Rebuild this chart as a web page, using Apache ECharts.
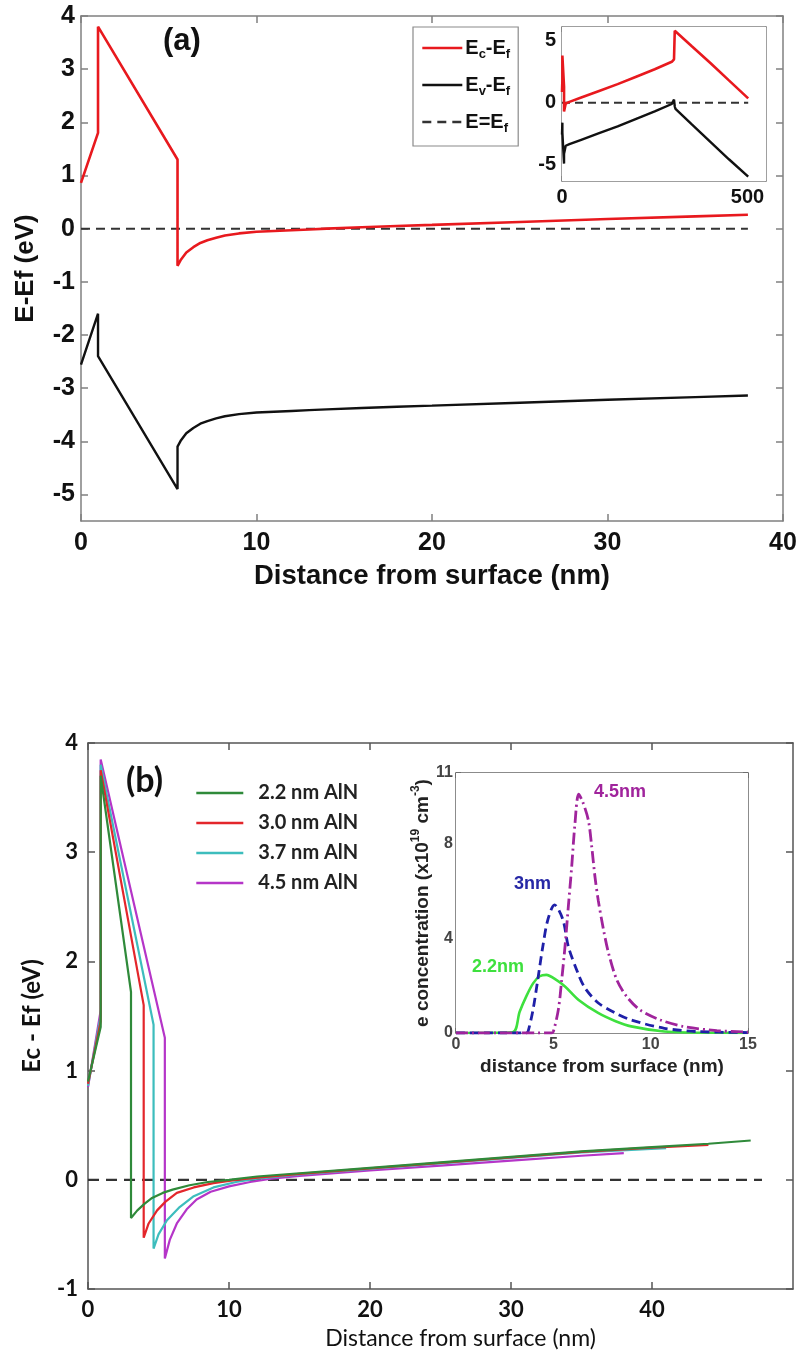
<!DOCTYPE html>
<html>
<head>
<meta charset="utf-8">
<script src="https://cdn.jsdelivr.net/npm/echarts@6/dist/echarts.min.js"></script>
<style>
html,body{margin:0;padding:0;background:#fff;}
#c{width:803px;height:1358px;}
</style>
</head>
<body>
<div id="c"></div>
<script>
// ---------- Panel (a) main: band edges vs distance (nm) ----------
const A_X  = [0, 0.97, 0.97, 5.5, 5.5, 5.7, 6.0, 6.4, 6.8, 7.2, 7.7, 8.2, 9.0, 10, 11, 12, 13, 14, 16, 18, 20, 25, 30, 35, 38];
const A_EC = [0.86, 1.8, 3.8, 1.3, -0.7, -0.58, -0.45, -0.35, -0.27, -0.22, -0.17, -0.13, -0.09, -0.06, -0.045, -0.03, -0.015, 0.0, 0.025, 0.05, 0.07, 0.125, 0.18, 0.23, 0.26];
const A_EV = [-2.56, -1.6, -2.4, -4.9, -4.1, -3.98, -3.85, -3.75, -3.67, -3.62, -3.57, -3.53, -3.49, -3.46, -3.445, -3.43, -3.415, -3.4, -3.375, -3.35, -3.33, -3.275, -3.22, -3.17, -3.14];
const A_EF_X = [0, 38];
const A_EF   = [0, 0];
const A_XTICKS = [0, 10, 20, 30, 40];
const A_YTICKS = [-5, -4, -3, -2, -1, 0, 1, 2, 3, 4];

// ---------- Panel (a) inset: 0-500 nm ----------
const IA_X_EC = [0, 1, 1, 5.5, 5.5, 10, 20, 50, 100, 150, 200, 250, 296, 302, 304, 350, 400, 450, 502];
const IA_EC   = [0.86, 1.8, 3.8, 1.3, -0.7, -0.06, 0.07, 0.4, 0.95, 1.5, 2.1, 2.7, 3.3, 3.5, 5.8, 4.55, 3.2, 1.8, 0.35];
const IA_X_EV = [0, 1, 1, 5.5, 5.5, 10, 20, 50, 100, 150, 200, 250, 296, 300, 302, 304, 306, 350, 400, 450, 502];
const IA_EV   = [-2.56, -1.6, -2.4, -4.9, -4.1, -3.46, -3.33, -3.0, -2.45, -1.9, -1.3, -0.7, -0.1, 0.05, 0.25, -0.3, -0.5, -1.75, -3.15, -4.55, -5.95];
const IA_EF_X = [0, 502];
const IA_EF   = [0, 0];
const IA_XTICKS = [0, 500];
const IA_YTICKS = [-5, 0, 5];

// ---------- Panel (b) main: Ec - Ef for four AlN thicknesses ----------
const B_X_22 = [0, 0.9, 0.9, 3.05, 3.05, 3.5, 4.0, 4.5, 5.3, 6.0, 7.2, 8.5, 10, 12, 15, 20, 25, 30, 35, 40, 44, 47];
const B_22   = [0.9, 1.4, 3.7, 1.72, -0.35, -0.28, -0.22, -0.17, -0.12, -0.09, -0.05, -0.02, 0.0, 0.03, 0.06, 0.11, 0.16, 0.21, 0.26, 0.3, 0.33, 0.36];
const B_X_30 = [0, 0.9, 0.9, 3.95, 3.95, 4.3, 4.9, 5.5, 6.3, 7.5, 8.9, 10.5, 12, 15, 20, 25, 30, 35, 40, 44];
const B_30   = [0.88, 1.45, 3.75, 1.6, -0.53, -0.4, -0.28, -0.2, -0.12, -0.07, -0.03, 0.0, 0.02, 0.055, 0.105, 0.155, 0.205, 0.255, 0.295, 0.32];
const B_X_37 = [0, 0.9, 0.9, 4.65, 4.65, 5.0, 5.6, 6.5, 7.5, 8.9, 10.5, 12, 15, 20, 25, 30, 35, 41];
const B_37   = [0.86, 1.5, 3.8, 1.42, -0.63, -0.5, -0.37, -0.25, -0.15, -0.07, -0.02, 0.01, 0.05, 0.1, 0.15, 0.2, 0.25, 0.29];
const B_X_45 = [0, 0.9, 0.9, 5.45, 5.45, 5.8, 6.3, 7.0, 7.7, 8.7, 10, 11.5, 13, 15, 20, 25, 30, 35, 38];
const B_45   = [0.85, 1.55, 3.85, 1.3, -0.72, -0.55, -0.4, -0.27, -0.18, -0.11, -0.06, -0.02, 0.01, 0.035, 0.085, 0.13, 0.175, 0.22, 0.245];
const B_EF_X = [0, 47.8];
const B_EF   = [0, 0];
const B_NAMES = ['2.2 nm AlN', '3.0 nm AlN', '3.7 nm AlN', '4.5 nm AlN'];
const B_XTICKS = [0, 10, 20, 30, 40];

// ---------- Panel (b) inset: electron concentration (x1e19 cm^-3) ----------
const IB_X_22 = [0, 2.9, 3.27, 3.61, 3.96, 4.3, 4.64, 5.15, 5.6, 6.3, 7.3, 8.2, 9.0, 10.7, 12, 15];
const IB_22   = [0, 0.03, 0.9, 1.55, 2.1, 2.4, 2.46, 2.25, 1.97, 1.4, 0.85, 0.5, 0.28, 0.06, 0.02, 0];
const IB_X_30 = [0, 3.6, 3.7, 3.96, 4.2, 4.46, 4.72, 5.06, 5.49, 5.77, 6.28, 6.63, 7.31, 8.17, 9.0, 10.7, 12.4, 15];
const IB_30   = [0, 0, 0.06, 1.0, 2.25, 3.66, 4.8, 5.42, 4.8, 3.66, 2.5, 1.9, 1.27, 0.85, 0.55, 0.2, 0.06, 0.02];
const IB_X_45 = [0, 4.9, 5.0, 5.26, 5.43, 5.6, 5.77, 5.94, 6.1, 6.3, 6.5, 6.8, 6.97, 7.14, 7.31, 7.57, 7.83, 8.26, 8.77, 9.46, 10.5, 11.7, 13.4, 15];
const IB_45   = [0, 0, 0.06, 1.0, 2.25, 3.66, 5.35, 7.0, 8.75, 10.1, 9.8, 9.0, 7.9, 6.6, 5.6, 4.4, 3.4, 2.25, 1.54, 0.97, 0.55, 0.27, 0.1, 0.04];
const IB_XTICKS = [0, 5, 10, 15];
const IB_YTICKS = [0, 4, 8, 11];

// ---------- helpers ----------
const zip = (xs, ys) => xs.map((x, i) => [x, ys[i]]);
const FA = "'Liberation Sans', Arial, sans-serif";
const FB = "Lato, 'Open Sans', sans-serif";

function line(name, xs, ys, xi, yi, color, width, type, smooth) {
  return {
    name: name, type: 'line', xAxisIndex: xi, yAxisIndex: yi,
    data: zip(xs, ys), symbol: 'none', smooth: smooth || false,
    lineStyle: { color: color, width: width, type: type || 'solid' },
    itemStyle: { color: color },
    animation: false, z: 3
  };
}

function axis(opt) {
  const o = {
    type: 'value', gridIndex: opt.g, position: opt.pos,
    min: opt.min, max: opt.max,
    axisLine: { show: true, onZero: false, lineStyle: { color: opt.color, width: opt.lineW || 1.5 } },
    axisTick: { show: true, inside: true, length: opt.len || 7, customValues: opt.ticks,
                lineStyle: { color: opt.color, width: opt.lineW || 1.5 } },
    axisLabel: { show: !!opt.labels, customValues: opt.ticks, color: opt.lc || '#111',
                 fontFamily: opt.font, fontSize: opt.fs, fontWeight: opt.fw || 'bold', margin: opt.margin || 8 },
    splitLine: { show: false }
  };
  if (opt.name) {
    o.name = opt.name; o.nameLocation = 'middle'; o.nameGap = opt.nameGap;
    o.nameTextStyle = opt.nameStyle;
  }
  return o;
}

const chart = echarts.init(document.getElementById('c'), null, { renderer: 'canvas' });

const legendRichA = {
  m: { fontSize: 20, fontWeight: 'bold', fontFamily: FA, color: '#111', lineHeight: 26, verticalAlign: 'middle' },
  s: { fontSize: 13, fontWeight: 'bold', fontFamily: FA, color: '#111', lineHeight: 26, verticalAlign: 'bottom' }
};
const legendTextA = {
  'Ec-Ef': '{m|E}{s|c}{m|-E}{s|f}',
  'Ev-Ef': '{m|E}{s|v}{m|-E}{s|f}',
  'E=Ef':  '{m|E=E}{s|f}'
};

const option = {
  backgroundColor: '#fff',
  animation: false,
  grid: [
    { left: 81,  top: 16,  width: 702, height: 505, show: false },
    { left: 562, top: 27,  width: 204, height: 154, show: true, backgroundColor: '#fff', borderWidth: 0, z: 1 },
    { left: 88,  top: 743, width: 705, height: 546, show: false },
    { left: 456, top: 773, width: 292, height: 260, show: true, backgroundColor: '#fff', borderWidth: 0, z: 1 }
  ],
  xAxis: [
    axis({ g: 0, pos: 'bottom', min: 0, max: 40, ticks: A_XTICKS, labels: true, color: '#808080', font: FA, fs: 25, margin: 10,
           name: 'Distance from surface (nm)', nameGap: 41,
           nameStyle: { fontFamily: FA, fontSize: 27.5, fontWeight: 'bold', color: '#111' } }),
    axis({ g: 0, pos: 'top', min: 0, max: 40, ticks: A_XTICKS, labels: false, color: '#808080' }),
    axis({ g: 1, pos: 'bottom', min: 0, max: 550, ticks: IA_XTICKS, labels: true, color: '#808080', font: FA, fs: 20, len: 5, margin: 6 }),
    axis({ g: 1, pos: 'top', min: 0, max: 550, ticks: IA_XTICKS, labels: false, color: '#808080', len: 5 }),
    axis({ g: 2, pos: 'bottom', min: 0, max: 50, ticks: B_XTICKS, labels: true, color: '#555', font: FB, fs: 22, margin: 10,
           name: 'Distance from surface (nm)', nameGap: 38,
           nameStyle: { fontFamily: FB, fontSize: 23, fontWeight: 'normal', color: '#111', padding: [0, 0, 0, 40] } }),
    axis({ g: 2, pos: 'top', min: 0, max: 50, ticks: B_XTICKS, labels: false, color: '#555' }),
    axis({ g: 3, pos: 'bottom', min: 0, max: 15, ticks: IB_XTICKS, labels: true, color: '#666', font: FA, fs: 16, fw: 'bold', len: 5, margin: 4, lc: '#444',
           name: 'distance from surface (nm)', nameGap: 24,
           nameStyle: { fontFamily: FA, fontSize: 19, fontWeight: 'bold', color: '#222' } }),
    axis({ g: 3, pos: 'top', min: 0, max: 15, ticks: IB_XTICKS, labels: false, color: '#666', len: 5 })
  ],
  yAxis: [
    axis({ g: 0, pos: 'left', min: -5.5, max: 4, ticks: A_YTICKS, labels: true, color: '#808080', font: FA, fs: 25, margin: 6,
           name: 'E-Ef (eV)', nameGap: 42,
           nameStyle: { fontFamily: FA, fontSize: 26, fontWeight: 'bold', color: '#111' } }),
    axis({ g: 0, pos: 'right', min: -5.5, max: 4, ticks: A_YTICKS, labels: false, color: '#808080' }),
    axis({ g: 1, pos: 'left', min: -6.3, max: 6.1, ticks: IA_YTICKS, labels: true, color: '#808080', font: FA, fs: 20, len: 5, margin: 6 }),
    axis({ g: 1, pos: 'right', min: -6.3, max: 6.1, ticks: IA_YTICKS, labels: false, color: '#808080', len: 5 }),
    axis({ g: 2, pos: 'left', min: -1, max: 4, ticks: [-1, 0, 1, 2, 3, 4], labels: true, color: '#555', font: FB, fs: 22, margin: 10,
           name: 'Ec - Ef (eV)', nameGap: 44,
           nameStyle: { fontFamily: FB, fontSize: 24, fontWeight: 'bold', color: '#111' } }),
    axis({ g: 2, pos: 'right', min: -1, max: 4, ticks: [-1, 0, 1, 2, 3, 4], labels: false, color: '#555' }),
    axis({ g: 3, pos: 'left', min: 0, max: 11, ticks: IB_YTICKS, labels: true, color: '#666', font: FA, fs: 16, fw: 'bold', len: 5, margin: 3, lc: '#444',
           name: '{n|e concentration (x10}{p|19}{n| cm}{p|-3}{n|)}', nameGap: 24,
           nameStyle: { rich: {
             n: { fontFamily: FA, fontSize: 19, fontWeight: 'bold', color: '#222', lineHeight: 22, verticalAlign: 'bottom' },
             p: { fontFamily: FA, fontSize: 12, fontWeight: 'bold', color: '#222', lineHeight: 22, verticalAlign: 'top' } } } }),
    axis({ g: 3, pos: 'right', min: 0, max: 11, ticks: IB_YTICKS, labels: false, color: '#666', len: 5 })
  ],
  legend: [
    {
      data: ['Ec-Ef', 'Ev-Ef', 'E=Ef'],
      orient: 'vertical', left: 413, top: 27,
      itemWidth: 40, itemHeight: 14, itemGap: 14,
      padding: [11, 8, 11, 8],
      borderColor: '#8a8a8a', borderWidth: 1.2, backgroundColor: '#fff',
      itemStyle: { opacity: 0 },
      lineStyle: { width: 2.6 },
      formatter: function (name) { return legendTextA[name]; },
      textStyle: { rich: legendRichA, padding: [0, 0, 0, -2] },
      selectedMode: false
    },
    {
      data: B_NAMES,
      orient: 'vertical', left: 190, top: 777,
      itemWidth: 47, itemHeight: 14, itemGap: 8,
      itemStyle: { opacity: 0 },
      lineStyle: { width: 2.6 },
      textStyle: { fontFamily: FB, fontSize: 20, fontWeight: 'bold', color: '#222', lineHeight: 22, padding: [0, 0, 0, 10] },
      selectedMode: false
    }
  ],
  graphic: [
    { type: 'text', left: 163, top: 26, style: { text: '(a)', fontFamily: FA, fontSize: 31, fontWeight: 'bold', fill: '#111' }, z: 10 },
    { type: 'text', left: 126, top: 764, style: { text: '(b)', fontFamily: FB, fontSize: 34, fontWeight: 'bold', fill: '#111' }, z: 10 },
    { type: 'text', left: 594, top: 783, style: { text: '4.5nm', fontFamily: FA, fontSize: 18, fontWeight: 'bold', fill: '#a0249c' }, z: 10 },
    { type: 'text', left: 514, top: 875, style: { text: '3nm', fontFamily: FA, fontSize: 18, fontWeight: 'bold', fill: '#2628a6' }, z: 10 },
    { type: 'text', left: 472, top: 958, style: { text: '2.2nm', fontFamily: FA, fontSize: 18, fontWeight: 'bold', fill: '#3ee03e' }, z: 10 }
  ],
  series: [
    line('E=Ef', A_EF_X, A_EF, 0, 0, '#333', 2, [9, 6]),
    line('Ec-Ef', A_X, A_EC, 0, 0, '#e8191e', 2.6),
    line('Ev-Ef', A_X, A_EV, 0, 0, '#111', 2.4),

    line('ia-ef', IA_EF_X, IA_EF, 2, 2, '#333', 2, [8, 5]),
    line('ia-ec', IA_X_EC, IA_EC, 2, 2, '#e8191e', 2.6),
    line('ia-ev', IA_X_EV, IA_EV, 2, 2, '#111', 2.4),

    line('b-ef', B_EF_X, B_EF, 4, 4, '#333', 2.2, [11, 7]),
    line(B_NAMES[3], B_X_45, B_45, 4, 4, '#b535c8', 2.2),
    line(B_NAMES[2], B_X_37, B_37, 4, 4, '#3dbdbd', 2.2),
    line(B_NAMES[1], B_X_30, B_30, 4, 4, '#e3262b', 2.2),
    line(B_NAMES[0], B_X_22, B_22, 4, 4, '#2f8a3a', 2.2),

    line('ib-22', IB_X_22, IB_22, 6, 6, '#3ee03e', 2.6, 'solid', 0.3),
    line('ib-30', IB_X_30, IB_30, 6, 6, '#1f20a8', 2.8, [9, 5], 0.3),
    line('ib-45', IB_X_45, IB_45, 6, 6, '#a0249c', 2.8, [12, 4, 2, 4], 0.3)
  ]
};
chart.setOption(option);
</script>
</body>
</html>
